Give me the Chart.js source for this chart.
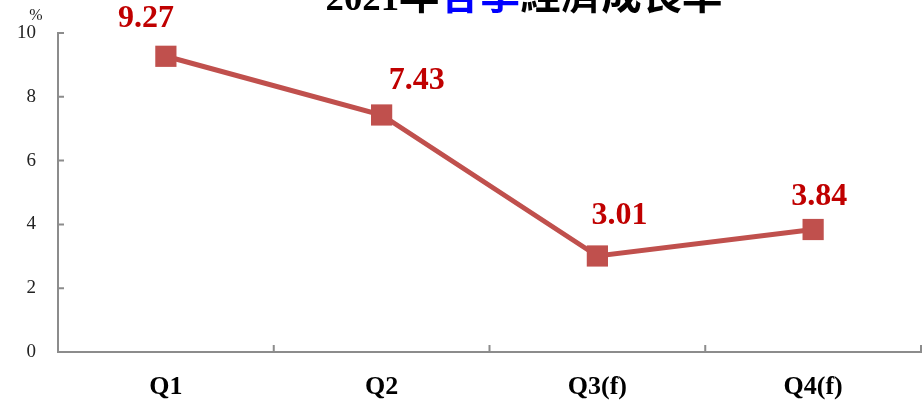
<!DOCTYPE html>
<html>
<head>
<meta charset="utf-8">
<script src="https://cdn.jsdelivr.net/npm/chart.js@4.4.0/dist/chart.umd.min.js"></script>
<style>
html,body{margin:0;padding:0;background:#fff;}
canvas{display:block;}
</style>
</head>
<body>
<canvas id="c" width="924" height="402"></canvas>
<script>
const categories = ["Q1", "Q2", "Q3(f)", "Q4(f)"];
const growthRates = [9.27, 7.43, 3.01, 3.84];
const yTicks = [0, 2, 4, 6, 8, 10];
const titleParts = [
  {text: "2021", color: "#000000", kind: "latin"},
  {text: "年", color: "#000000", kind: "cjk"},
  {text: "各季", color: "#0000FF", kind: "cjk"},
  {text: "經濟成長率", color: "#000000", kind: "cjk"}
];
const unitLabel = "%";

const labelOffsets = [[-20, -38], [35, -34], [22, -40], [6, -33]];
const AXIS_COLOR = "#8c8c8c";

const overlayPlugin = {
  id: "overlay",
  afterDraw(chart) {
    const ctx = chart.ctx;
    const xs = chart.scales.x, ys = chart.scales.y;
    const area = chart.chartArea;
    ctx.save();
    // inward ticks
    ctx.strokeStyle = AXIS_COLOR;
    ctx.lineWidth = 2;
    ctx.beginPath();
    yTicks.forEach(v => {
      const y = ys.getPixelForValue(v);
      ctx.moveTo(area.left, y);
      ctx.lineTo(area.left + 6, y);
    });
    for (let i = 0; i < categories.length; i++) {
      const x = xs.getPixelForValue(i + 0.5);
      ctx.moveTo(x, area.bottom);
      ctx.lineTo(x, area.bottom - 7);
    }
    ctx.stroke();
    // unit label
    ctx.fillStyle = "#222";
    ctx.font = "16px 'Liberation Serif'";
    ctx.textAlign = "center";
    ctx.textBaseline = "middle";
    ctx.fillText(unitLabel, 36, 16);
    // data labels
    const meta = chart.getDatasetMeta(0);
    ctx.fillStyle = "#C00000";
    ctx.font = "bold 32px 'Liberation Serif'";
    ctx.textAlign = "center";
    ctx.textBaseline = "middle";
    meta.data.forEach((pt, i) => {
      const o = labelOffsets[i];
      ctx.fillText(growthRates[i].toFixed(2), pt.x + o[0], pt.y + o[1]);
    });
    // title
    const targetWidth = 397;
    const mk = (kind, f) => kind === "latin" ? "bold " + (40 * f) + "px 'Liberation Serif'" : "bold " + (44 * f) + "px 'Noto Sans CJK TC'";
    const measure = f => titleParts.map(p => { ctx.font = mk(p.kind, f); return ctx.measureText(p.text).width; });
    let widths = measure(1);
    let total = widths.reduce((a, b) => a + b, 0);
    const f = targetWidth / total;
    widths = measure(f);
    total = widths.reduce((a, b) => a + b, 0);
    let x = 524 - total / 2;
    ctx.textAlign = "left";
    ctx.textBaseline = "alphabetic";
    titleParts.forEach((p, i) => {
      ctx.font = mk(p.kind, f);
      ctx.fillStyle = p.color;
      ctx.fillText(p.text, x, p.kind === "cjk" ? 9 : 10);
      x += widths[i];
    });
    ctx.restore();
  }
};

new Chart(document.getElementById("c"), {
  type: "line",
  data: {
    labels: categories,
    datasets: [{
      data: growthRates,
      borderColor: "#C0504D",
      backgroundColor: "#C0504D",
      borderWidth: 5,
      pointStyle: "rect",
      pointRadius: 15,
      pointHoverRadius: 15,
      pointBorderWidth: 0,
      pointBackgroundColor: "#C0504D",
      tension: 0,
      fill: false,
      clip: false
    }]
  },
  options: {
    responsive: false,
    animation: false,
    events: [],
    layout: {autoPadding: false, padding: {top: 33, right: 3, left: 0, bottom: 0}},
    plugins: {legend: {display: false}, tooltip: {enabled: false}, title: {display: false}},
    scales: {
      x: {
        type: "category",
        offset: true,
        grid: {display: false, drawTicks: false},
        border: {display: true, color: AXIS_COLOR, width: 2},
        ticks: {
          color: "#000",
          font: {family: "'Liberation Serif'", size: 26, weight: "bold"},
          padding: 20,
          maxRotation: 0,
          autoSkip: false
        },
        afterFit(s) { s.height = 50; s.paddingLeft = 0; s.paddingRight = 0; }
      },
      y: {
        min: 0,
        max: 10,
        grid: {display: false, drawTicks: false},
        border: {display: true, color: AXIS_COLOR, width: 2},
        ticks: {
          stepSize: 2,
          color: "#222",
          font: {family: "'Liberation Serif'", size: 19},
          padding: 22
        },
        afterFit(s) { s.width = 58; s.paddingTop = 0; s.paddingBottom = 0; }
      }
    }
  },
  plugins: [overlayPlugin]
});
</script>
</body>
</html>
